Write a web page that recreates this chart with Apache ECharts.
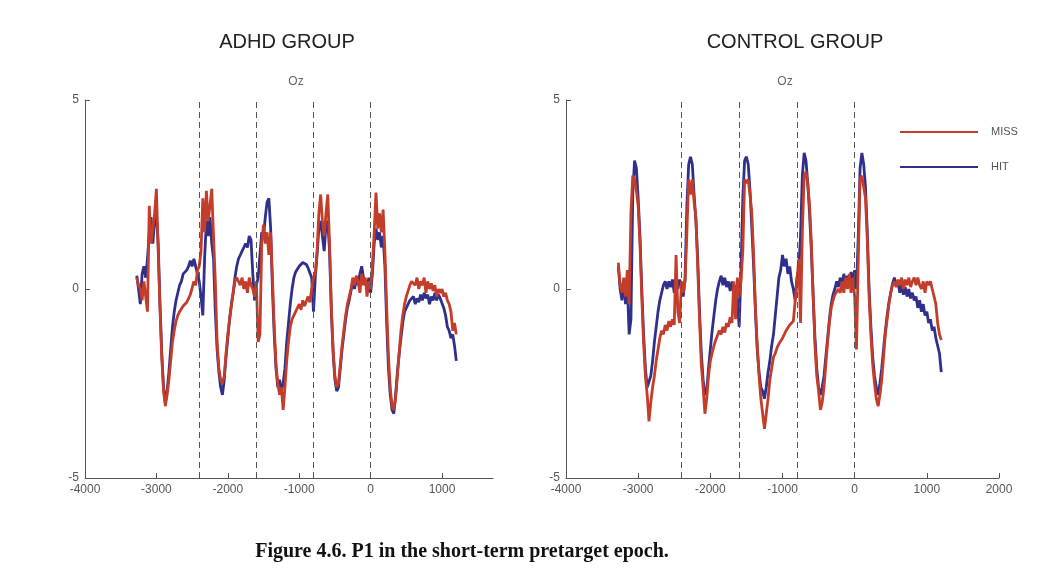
<!DOCTYPE html>
<html>
<head>
<meta charset="utf-8">
<script src="https://cdn.jsdelivr.net/npm/echarts@6/dist/echarts.min.js"></script>
<style>html,body{margin:0;padding:0;background:#fff;}#c{width:1050px;height:584px;}</style>
</head>
<body>
<div id="c"></div>
<script>
// time grid (ms), 25 ms steps
const tStart = -3275, tStep = 25;
// ADHD group
const adhdMiss = [
 0.3, 0.1, 0.0, -0.3, 0.2, -0.2, -0.6, 2.2, 1.2, 1.6,
 2.0, 2.65, 1.0, -0.5, -1.8, -2.7, -3.1, -2.8, -2.4, -1.9,
 -1.4, -1.1, -0.85, -0.7, -0.6, -0.55, -0.45, -0.4, -0.35, -0.3,
 -0.15, -0.2, 0.2, 0.1, 0.5, 0.6, 1.0, 2.4, 1.5, 2.6,
 1.8, 2.2, 2.65, 1.4, 0.2, -1.4, -2.1, -2.4, -2.5, -2.3,
 -1.7, -1.2, -0.8, -0.45, -0.1, 0.2, 0.3, 0.25, 0.1, 0.3,
 0.0, 0.2, -0.1, 0.3, 0.1, 0.0, -0.2, 0.2, -1.4, -1.2,
 1.2, 1.7, 1.2, 1.5, 0.9, 1.5, 0.3, -1.0, -2.0, -2.5,
 -2.8, -2.6, -3.2, -2.6, -1.9, -1.4, -1.0, -0.8, -0.7, -0.75,
 -0.5, -0.4, -0.55, -0.3, -0.45, -0.5, -0.2, -0.35, 0.0, 0.3,
 0.4, 1.0, 2.0, 2.5, 1.8, 1.4, 2.0, 2.5, 1.2, -0.5,
 -1.6, -2.3, -2.6, -2.5, -2.0, -1.5, -1.1, -0.7, -0.4, -0.2,
 0.0, 0.3, 0.1, 0.35, 0.2, -0.1, 0.4, 0.1, 0.3, -0.2,
 0.2, 0.0, 0.6, 1.5, 2.55, 1.6, 2.0, 1.5, 2.1, 1.0,
 -0.5, -1.8, -2.6, -3.1, -3.2, -2.9, -2.3, -1.7, -1.1, -0.7,
 -0.4, -0.2, -0.05, 0.1, 0.2, 0.25, 0.1, 0.3, 0.0, 0.2,
 0.1, 0.3, -0.1, 0.2, 0.0, 0.15, -0.05, 0.1, -0.2, 0.0,
 -0.1, 0.0, -0.2, -0.1, -0.3, -0.4, -0.6, -1.1, -0.9, -1.2
];
const adhdHit = [
 0.35, 0.0, -0.4, 0.4, 0.6, 0.3, 0.8, 1.5, 1.9, 1.2,
 1.8, 2.0, 1.2, -0.4, -1.7, -2.6, -3.0, -2.7, -2.2, -1.6,
 -1.0, -0.6, -0.3, -0.1, 0.1, 0.2, 0.4, 0.45, 0.5, 0.6,
 0.75, 0.6, 0.8, 0.6, 0.4, 0.2, -0.2, -0.7, 0.8, 1.8,
 1.4, 1.9, 1.2, 0.8, -0.6, -1.6, -2.2, -2.6, -2.8, -2.4,
 -1.8, -1.3, -0.8, -0.4, -0.1, 0.3, 0.6, 0.8, 0.9, 1.0,
 1.0, 1.2, 1.1, 1.4, 1.3, 0.4, -0.3, 0.1, 0.3, 0.9,
 1.5, 1.4, 1.9, 2.3, 2.4, 1.6, 0.0, -1.2, -2.1, -2.6,
 -2.4, -2.7, -2.5, -2.1, -1.4, -0.9, -0.4, 0.0, 0.3, 0.45,
 0.5, 0.6, 0.55, 0.7, 0.75, 0.65, 0.55, 0.6, 0.3, -0.6,
 0.3, 0.9, 1.6, 1.8, 1.4, 1.0, 1.7, 1.8, 1.0, -0.6,
 -1.7, -2.4, -2.7, -2.6, -2.1, -1.6, -1.2, -0.8, -0.5, -0.3,
 -0.05, 0.2, 0.0, 0.3, 0.1, 0.4, 0.6, 0.3, 0.2, 0.0,
 0.3, -0.1, 0.4, 1.2, 1.6, 1.3, 1.5, 1.1, 1.4, 0.6,
 -0.9, -2.1, -2.8, -3.2, -3.3, -2.8, -2.2, -1.7, -1.3, -0.9,
 -0.6, -0.5, -0.4, -0.3, -0.35, -0.2, -0.4, -0.25, -0.35, -0.15,
 -0.3, -0.1, -0.25, -0.15, -0.4, -0.2, -0.3, -0.1, -0.3, -0.15,
 -0.25, -0.2, -0.5, -0.7, -1.0, -1.1, -1.3, -1.2, -1.5, -1.9
];
// Control group
const ctrlMiss = [
 0.7, 0.1, -0.1, 0.3, -0.2, 0.5, -0.4, 2.0, 3.0, 2.9,
 2.6, 2.2, 1.2, -0.2, -1.4, -2.3, -2.8, -3.5, -3.0, -2.6,
 -2.3, -1.9, -1.6, -1.3, -1.1, -1.2, -0.95, -1.1, -0.85, -1.0,
 -0.8, -0.95, 0.9, -0.6, -0.9, 0.2, -0.1, 0.2, 1.5, 2.9,
 2.5, 2.9, 2.3, 1.9, 0.6, -0.8, -2.0, -2.6, -3.3, -2.9,
 -2.3, -1.9, -1.7, -1.5, -1.35, -1.3, -1.1, -1.2, -1.0, -1.15,
 -0.9, -1.0, -0.75, -0.9, 0.2, -0.8, 0.3, -0.2, 0.2, 1.0,
 2.9, 2.8, 2.9, 2.5, 2.0, 0.9, -0.5, -1.5, -2.3, -2.9,
 -3.3, -3.7, -3.3, -2.9, -2.4, -2.1, -1.8, -1.7, -1.55, -1.45,
 -1.4, -1.3, -1.25, -1.1, -1.15, -0.95, -1.0, -0.85, -0.8, 0.2,
 0.8, -0.9, 1.5, 3.0, 3.1, 2.8, 2.2, 1.2, -0.2, -1.5,
 -2.3, -2.7, -3.2, -3.0, -2.6, -2.0, -1.4, -0.9, -0.5, -0.3,
 -0.15, -0.2, 0.0, -0.1, 0.2, -0.1, 0.3, 0.0, 0.4, -0.1,
 0.3, -0.2, -1.6, 0.8, 2.9, 3.0, 2.7, 2.4, 1.3, -0.2,
 -1.2, -2.0, -2.5, -2.9, -3.1, -2.8, -2.4, -1.8, -1.2, -0.8,
 -0.4, -0.1, 0.1, 0.2, 0.05, 0.25, 0.1, 0.3, 0.0, 0.25,
 0.1, 0.3, 0.05, 0.2, 0.3, 0.1, 0.3, 0.1, 0.0, 0.2,
 -0.1, 0.2, 0.1, 0.2, 0.0, -0.2, -0.4, -0.9, -1.2, -1.35
];
const ctrlHit = [
 0.6, 0.0, -0.3, 0.2, -0.4, 0.1, -1.2, -0.8, 2.5, 3.4,
 3.2, 2.4, 1.4, 0.0, -1.2, -2.1, -2.6, -2.6, -2.3, -1.9,
 -1.4, -1.0, -0.6, -0.3, -0.1, 0.1, 0.2, 0.0, 0.2, 0.05,
 0.25, -0.1, 0.2, 0.0, 0.25, 0.1, -0.2, 0.3, 2.2, 3.3,
 3.5, 3.3, 2.5, 1.8, 0.8, -0.6, -1.7, -2.4, -2.8, -2.7,
 -2.1, -1.6, -1.1, -0.7, -0.3, 0.0, 0.2, 0.35, 0.1, 0.3,
 0.05, 0.2, -0.05, 0.2, -0.1, 0.1, -0.3, -1.0, 0.5, 2.4,
 3.4, 3.5, 3.3, 2.6, 1.6, 0.6, -0.6, -1.6, -2.2, -2.6,
 -2.7, -2.9, -2.6, -2.2, -1.9, -1.5, -1.2, -0.7, -0.2, 0.3,
 0.5, 0.9, 0.6, 0.8, 0.4, 0.6, 0.2, 0.0, -0.3, 0.3,
 0.5, 1.4, 3.0, 3.6, 3.4, 2.8, 2.0, 1.0, -0.2, -1.3,
 -2.1, -2.6, -2.8, -2.6, -2.3, -1.8, -1.3, -0.8, -0.4, -0.15,
 0.0, 0.2, 0.05, 0.3, 0.1, 0.4, 0.15, 0.35, 0.1, 0.45,
 0.2, 0.5, 0.0, 1.4, 3.2, 3.6, 3.3, 2.7, 1.5, 0.0,
 -1.0, -1.8, -2.3, -2.6, -2.8, -2.5, -2.1, -1.6, -1.1, -0.7,
 -0.35, -0.1, 0.15, 0.3, 0.1, 0.2, -0.1, 0.1, -0.15, 0.05,
 -0.2, 0.0, -0.25, -0.1, -0.3, -0.2, -0.5, -0.3, -0.6, -0.4,
 -0.7, -0.6, -0.9, -0.8, -1.1, -1.0, -1.3, -1.5, -1.7, -2.2
];
const markers = [-2400, -1600, -800, 0];
const xTicksLeft = [-4000, -3000, -2000, -1000, 0, 1000];
const xTicksRight = [-4000, -3000, -2000, -1000, 0, 1000, 2000];
const yTicks = [-5, 0, 5];
const panelTitles = ['ADHD GROUP', 'CONTROL GROUP'];
const channel = 'Oz';
const caption = 'Figure 4.6. P1 in the short-term pretarget epoch.';

const RED = '#c43c2a', BLUE = '#2f2f8c', AX = '#555';
const FF = '"Liberation Sans", Arial, sans-serif';

function pairs(arr) { return arr.map((v, i) => [tStart + i * tStep, v]); }

function xAxis(g, max, ticks) {
  return {
    gridIndex: g, type: 'value', min: -4000, max: max,
    axisLine: { show: true, onZero: false, lineStyle: { color: AX, width: 1 } },
    axisTick: { show: true, inside: true, length: 5, customValues: ticks, lineStyle: { color: AX } },
    axisLabel: { customValues: ticks, color: '#555', fontSize: 12, fontFamily: FF, margin: 6, formatter: v => String(v) },
    splitLine: { show: false }
  };
}
function yAxis(g) {
  return {
    gridIndex: g, type: 'value', min: -5, max: 5,
    axisLine: { show: true, onZero: false, lineStyle: { color: AX, width: 1 } },
    axisTick: { show: true, inside: true, length: 5, customValues: yTicks, lineStyle: { color: AX } },
    axisLabel: { customValues: yTicks, color: '#555', fontSize: 12, fontFamily: FF, margin: 6, formatter: v => String(v) },
    splitLine: { show: false }
  };
}
function markLine() {
  return {
    silent: true, symbol: ['none', 'none'], label: { show: false },
    lineStyle: { type: [6, 4], color: '#555', width: 1 },
    emphasis: { disabled: true },
    data: markers.map(v => ({ xAxis: v }))
  };
}
function lineSeries(name, g, arr, color, ml) {
  const s = {
    name: name, type: 'line', xAxisIndex: g, yAxisIndex: g,
    data: pairs(arr), showSymbol: false, symbol: 'none',
    lineStyle: { color: color, width: 2.8 }, itemStyle: { color: color },
    emphasis: { disabled: true }, z: name === 'MISS' ? 3 : 2
  };
  if (ml) s.markLine = markLine();
  return s;
}

const chart = echarts.init(document.getElementById('c'), null, { renderer: 'canvas' });
chart.setOption({
  animation: false,
  backgroundColor: '#ffffff',
  grid: [
    { left: 85, top: 100, width: 408, height: 378, containLabel: false },
    { left: 566, top: 100, width: 433, height: 378, containLabel: false }
  ],
  xAxis: [xAxis(0, 1714, xTicksLeft), xAxis(1, 2000, xTicksRight)],
  yAxis: [yAxis(0), yAxis(1)],
  legend: {
    data: ['MISS', 'HIT'], orient: 'vertical', left: 895, top: 120,
    icon: 'rect', itemWidth: 78, itemHeight: 2, itemGap: 21,
    textStyle: { color: '#555', fontSize: 11, fontFamily: FF, padding: [0, 0, 0, 8], lineHeight: 14 },
    selectedMode: false
  },
  series: [
    lineSeries('HIT', 0, adhdHit, BLUE, true),
    lineSeries('MISS', 0, adhdMiss, RED, false),
    lineSeries('HIT', 1, ctrlHit, BLUE, true),
    lineSeries('MISS', 1, ctrlMiss, RED, false)
  ],
  graphic: [
    { type: 'text', x: 287, y: 42, style: { text: panelTitles[0], fontSize: 20, fontFamily: FF, fill: '#222', align: 'center', verticalAlign: 'middle' } },
    { type: 'text', x: 795, y: 42, style: { text: panelTitles[1], fontSize: 20, fontFamily: FF, fill: '#222', align: 'center', verticalAlign: 'middle' } },
    { type: 'text', x: 296, y: 82, style: { text: channel, fontSize: 12, fontFamily: FF, fill: '#666', align: 'center', verticalAlign: 'middle' } },
    { type: 'text', x: 785, y: 82, style: { text: channel, fontSize: 12, fontFamily: FF, fill: '#666', align: 'center', verticalAlign: 'middle' } },
    { type: 'text', x: 462, y: 552, style: { text: caption, fontSize: 20, fontWeight: 'bold', fontFamily: '"Liberation Serif", "Times New Roman", serif', fill: '#111', align: 'center', verticalAlign: 'middle' } }
  ]
});
</script>
</body>
</html>
